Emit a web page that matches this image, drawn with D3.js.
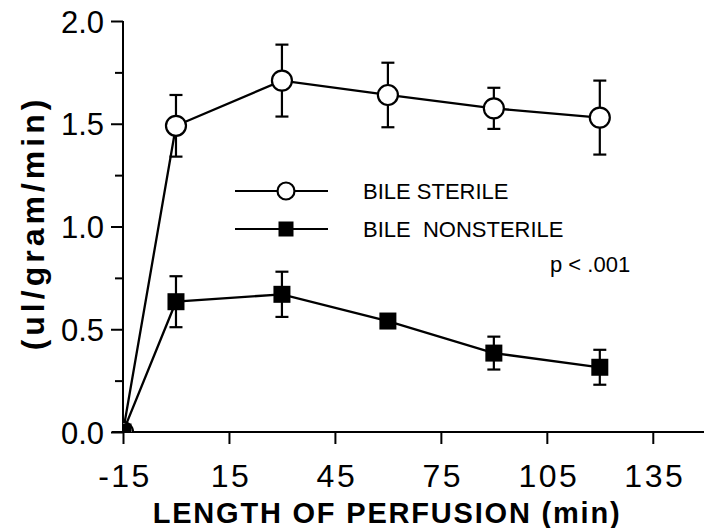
<!DOCTYPE html>
<html>
<head>
<meta charset="utf-8">
<script src="https://cdn.jsdelivr.net/npm/d3@7"></script>
<style>
  html, body { margin: 0; padding: 0; background: #fff; }
  svg { display: block; }
  text { font-family: "Liberation Sans", Arial, Helvetica, sans-serif; fill: #000; }
</style>
</head>
<body>
<svg id="chart" width="704" height="528"></svg>
<script>
// ---- Data ----
const times = [-15, 0, 30, 60, 90, 120];
const sterileMean = [0, 1.49, 1.71, 1.64, 1.575, 1.53];
const sterileErr = [0, 0.15, 0.175, 0.157, 0.1, 0.18];
const nonsterileMean = [0, 0.634, 0.67, 0.54, 0.384, 0.315];
const nonsterileErr = [0, 0.124, 0.11, 0.03, 0.08, 0.085];
const xTicks = [-15, 15, 45, 75, 105, 135];
const yMajorTicks = [0, 0.5, 1.0, 1.5, 2.0];
const yMinorTicks = [0.25, 0.75, 1.25, 1.75];
const seriesNames = ["BILE STERILE", "BILE  NONSTERILE"];
const annotation = "p < .001";
const xTitle = "LENGTH OF PERFUSION (min)";
const yTitle = "(ul/gram/min)";

const svg = d3.select("#chart");
const x = d3.scaleLinear().domain([-15, 149.5]).range([123, 704]);
const y = d3.scaleLinear().domain([0, 2]).range([432, 21]);

const ink = "#000";

// clip for plot area
svg.append("clipPath").attr("id", "plotclip")
  .append("rect").attr("x", x(-15)).attr("y", 0).attr("width", 704 - x(-15)).attr("height", y(0));

// ---- Axes ----
const gx = svg.append("g").attr("transform", `translate(0,${y(0)})`);
gx.call(d3.axisBottom(x).tickValues(xTicks).tickSize(12).tickFormat(d => String(d)));
gx.select(".domain").attr("stroke", ink).attr("stroke-width", 2).attr("d", `M${x(-15) - 11},0H704`);
gx.selectAll(".tick line").attr("stroke", ink).attr("stroke-width", 2);
gx.selectAll(".tick text")
  .attr("y", 55).attr("dy", 0)
  .attr("dx", "1.5px")
  .style("font-size", "32px").style("letter-spacing", "2.5px");

const gy = svg.append("g").attr("transform", `translate(${x(-15)},0)`);
gy.call(d3.axisLeft(y).tickValues(yMajorTicks).tickSize(12).tickFormat(d3.format(".1f")));
gy.select(".domain").attr("stroke", ink).attr("stroke-width", 2).attr("d", `M0,${y(2)}V${y(0)}`);
gy.selectAll(".tick line").attr("stroke", ink).attr("stroke-width", 2);
gy.selectAll(".tick text")
  .attr("x", -19).attr("dy", "0.36em")
  .style("font-size", "31px");
const gyMinor = svg.append("g").attr("transform", `translate(${x(-15)},0)`);
gyMinor.call(d3.axisLeft(y).tickValues(yMinorTicks).tickSize(8).tickFormat(""));
gyMinor.select(".domain").remove();
gyMinor.selectAll(".tick line").attr("stroke", ink).attr("stroke-width", 2);

// ---- Axis titles ----
svg.append("text")
  .attr("x", 387).attr("y", 523)
  .attr("text-anchor", "middle")
  .style("font-size", "29px").style("font-weight", "bold").style("letter-spacing", "1.8px")
  .text(xTitle);

svg.append("text")
  .attr("transform", `translate(44,${223}) rotate(-90)`)
  .attr("text-anchor", "middle")
  .style("font-size", "32px").style("font-weight", "bold").style("letter-spacing", "4px")
  .text(yTitle);

// ---- Series ----
function drawSeries(means, errs, marker) {
  const pts = times.map((t, i) => ({ t, m: means[i], e: errs[i] }));
  const g = svg.append("g").attr("clip-path", "url(#plotclip)");
  g.append("path")
    .datum(pts)
    .attr("fill", "none").attr("stroke", ink).attr("stroke-width", 2.3)
    .attr("d", d3.line().x(d => x(d.t)).y(d => y(d.m)));
  const eb = g.selectAll(".eb").data(pts.filter(d => d.e > 0)).join("g");
  eb.append("line")
    .attr("x1", d => x(d.t)).attr("x2", d => x(d.t))
    .attr("y1", d => y(d.m + d.e)).attr("y2", d => y(d.m - d.e))
    .attr("stroke", ink).attr("stroke-width", 2.2);
  [1, -1].forEach(s => {
    eb.append("line")
      .attr("x1", d => x(d.t) - 6.5).attr("x2", d => x(d.t) + 6.5)
      .attr("y1", d => y(d.m + s * d.e)).attr("y2", d => y(d.m + s * d.e))
      .attr("stroke", ink).attr("stroke-width", 2.2);
  });
  if (marker === "circle") {
    g.selectAll(".mk").data(pts).join("circle")
      .attr("cx", d => x(d.t)).attr("cy", d => y(d.m)).attr("r", 10)
      .attr("fill", "#fff").attr("stroke", ink).attr("stroke-width", 2.2);
  } else {
    g.selectAll(".mk").data(pts).join("rect")
      .attr("x", d => x(d.t) - 8.5).attr("y", d => y(d.m) - 8.5)
      .attr("width", 17).attr("height", 17)
      .attr("fill", ink);
  }
}
drawSeries(sterileMean, sterileErr, "circle");
drawSeries(nonsterileMean, nonsterileErr, "square");

// ---- Legend ----
const legend = svg.append("g");
const rows = [{ name: seriesNames[0], m: "circle", y: 191 }, { name: seriesNames[1], m: "square", y: 229 }];
rows.forEach(r => {
  legend.append("line").attr("x1", 235).attr("x2", 328).attr("y1", r.y).attr("y2", r.y)
    .attr("stroke", ink).attr("stroke-width", 2);
  if (r.m === "circle") {
    legend.append("circle").attr("cx", 286).attr("cy", r.y).attr("r", 8.5)
      .attr("fill", "#fff").attr("stroke", ink).attr("stroke-width", 2.2);
  } else {
    legend.append("rect").attr("x", 286 - 7.5).attr("y", r.y - 7.5).attr("width", 15).attr("height", 15)
      .attr("fill", ink);
  }
  legend.append("text").attr("x", 363).attr("y", r.y + 8)
    .style("font-size", "22px").style("white-space", "pre").attr("xml:space", "preserve")
    .text(r.name);
});
svg.append("text").attr("x", 550).attr("y", 272)
  .style("font-size", "22px")
  .text(annotation);
</script>
</body>
</html>
